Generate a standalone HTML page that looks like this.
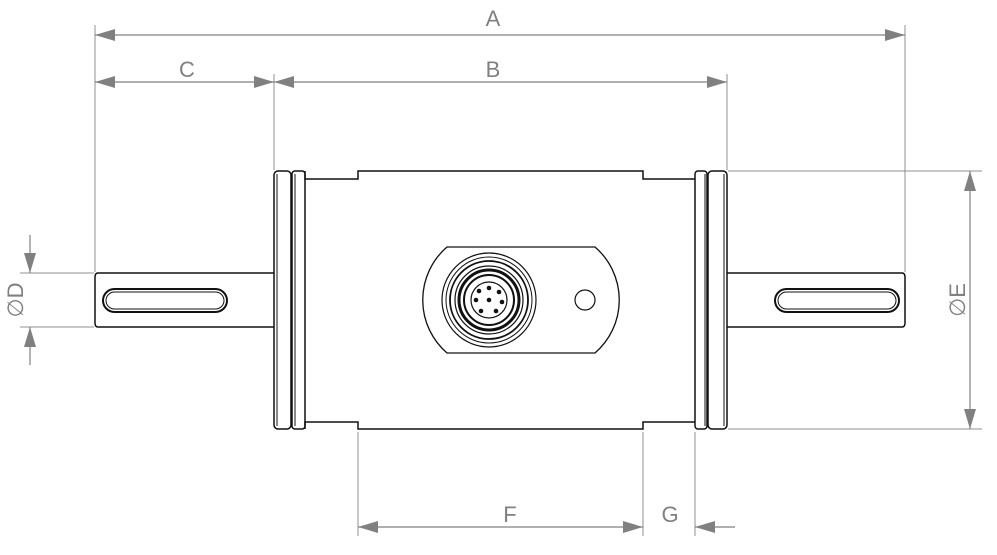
<!DOCTYPE html>
<html><head><style>body{margin:0;background:#fff}svg{display:block}</style></head><body>
<svg width="997" height="555" viewBox="0 0 997 555" xmlns="http://www.w3.org/2000/svg">
<defs>
<marker id="ar" viewBox="0 0 20 12" refX="20" refY="6" markerWidth="20" markerHeight="12" markerUnits="userSpaceOnUse" orient="auto-start-reverse"><path d="M0,0 L20,6 L0,12 z" fill="#808080"/></marker>
</defs>
<g stroke="#909090" stroke-width="1" fill="none">
<line x1="95" y1="25" x2="95" y2="272"/>
<line x1="905" y1="25" x2="905" y2="272"/>
<line x1="274" y1="74" x2="274" y2="170"/>
<line x1="727" y1="74" x2="727" y2="170"/>
<line x1="728" y1="171" x2="982" y2="171"/>
<line x1="728" y1="429" x2="982" y2="429"/>
<line x1="20" y1="273" x2="94" y2="273"/>
<line x1="20" y1="327" x2="94" y2="327"/>
<line x1="358" y1="432" x2="358" y2="536"/>
<line x1="643" y1="432" x2="643" y2="536"/>
<line x1="695" y1="432" x2="695" y2="536"/>
</g>
<g stroke="#808080" stroke-width="1.2" fill="none">
<line x1="95" y1="35" x2="905" y2="35" marker-start="url(#ar)" marker-end="url(#ar)"/>
<line x1="95" y1="82" x2="274" y2="82" marker-start="url(#ar)" marker-end="url(#ar)"/>
<line x1="274" y1="82" x2="727" y2="82" marker-start="url(#ar)" marker-end="url(#ar)"/>
<line x1="970" y1="171" x2="970" y2="429" marker-start="url(#ar)" marker-end="url(#ar)"/>
<line x1="30" y1="235" x2="30" y2="273" marker-end="url(#ar)"/>
<line x1="30" y1="365" x2="30" y2="327" marker-end="url(#ar)"/>
<line x1="358" y1="527" x2="643" y2="527" marker-start="url(#ar)" marker-end="url(#ar)"/>
<line x1="735" y1="527" x2="695" y2="527" marker-end="url(#ar)"/>
</g>
<g font-family="Liberation Sans, sans-serif" font-size="22" fill="#808080" text-anchor="middle">
<text x="493" y="26">A</text>
<text x="187" y="77">C</text>
<text x="493" y="77">B</text>
<text x="510" y="522">F</text>
<text x="670" y="522">G</text>
<text transform="translate(23,300) rotate(-90)">∅D</text>
<text transform="translate(965,300) rotate(-90)">∅E</text>
</g>
<g stroke="#111" stroke-width="1.5" fill="none">
<path d="M274,273 H98 Q95,273 95,277 V323 Q95,327 98,327 H274"/>
<path d="M727,273 H902 Q905,273 905,277 V323 Q905,327 902,327 H727"/>
<rect x="103" y="289" width="124" height="23" rx="11.5" stroke-width="2"/>
<rect x="106" y="292" width="118" height="17" rx="8.5" stroke-width="1"/>
<rect x="775" y="289" width="124" height="23" rx="11.5" stroke-width="2"/>
<rect x="778" y="292" width="118" height="17" rx="8.5" stroke-width="1"/>
<path d="M305,171 V179 H358 V171 H643 V179 H695"/>
<path d="M305,429 V422 H358 V429 H643 V422 H695"/>
<rect x="274" y="171" width="17" height="258" rx="4"/>
<line x1="277" y1="174" x2="277" y2="426" stroke-width="1"/>
<rect x="292" y="171" width="13" height="258" rx="3"/>
<line x1="295" y1="174" x2="295" y2="426" stroke-width="1"/>
<rect x="695" y="171" width="12" height="258" rx="3"/>
<line x1="705" y1="174" x2="705" y2="426" stroke-width="1"/>
<rect x="708" y="171" width="19" height="258" rx="4"/>
<line x1="724" y1="174" x2="724" y2="426" stroke-width="1"/>
<path d="M447,247 H595 A70,70 0 0 1 595,353 H447 A70,70 0 0 1 447,247 Z" stroke-width="1.3"/>
<circle cx="585" cy="300" r="10" stroke-width="1.2"/>
<circle cx="489" cy="300" r="47" stroke-width="1.2"/>
<circle cx="489" cy="300" r="43" stroke-width="1"/>
<circle cx="489" cy="300" r="39" stroke-width="1.8"/>
<circle cx="489" cy="300" r="34" stroke-width="1.2"/>
<circle cx="489" cy="300" r="30" stroke-width="3"/>
<circle cx="489" cy="300" r="25" stroke-width="2"/>
<circle cx="489" cy="300" r="18" stroke-width="1.2"/>
</g>
<g fill="#111">
<circle cx="489" cy="288" r="2.3"/><circle cx="499" cy="292" r="2.3"/><circle cx="502" cy="302" r="2.3"/>
<circle cx="496" cy="311" r="2.3"/><circle cx="481" cy="311" r="2.3"/><circle cx="476" cy="300" r="2.3"/>
<circle cx="479" cy="291" r="2.3"/><circle cx="489" cy="300" r="2.3"/>
</g>
</svg>
</body></html>
